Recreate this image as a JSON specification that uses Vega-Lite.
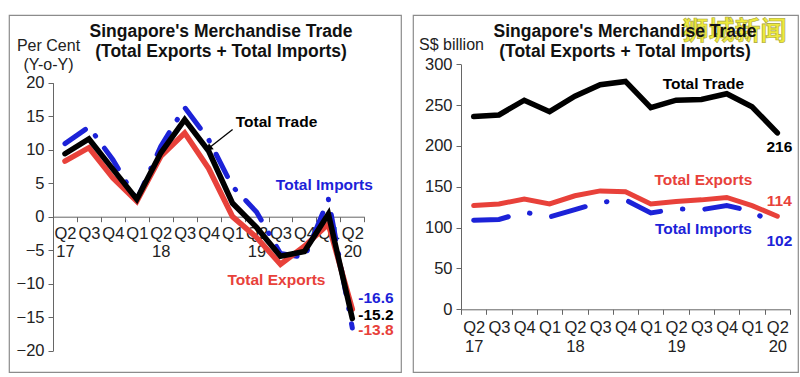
{
  "$schema": "https://vega.github.io/schema/vega-lite/v6.json",
  "background": "white",
  "padding": {"left": 8, "top": 14, "right": 0, "bottom": 0},
  "config": {
    "font": "Liberation Sans",
    "view": {"stroke": "#8c8c8c", "strokeWidth": 1.2},
    "axis": {"labelFontSize": 16.5, "labelColor": "#222", "domainColor": "#666", "tickColor": "#666", "grid": false, "titleFontSize": 16, "titleFontWeight": "normal", "titleColor": "#222", "labelFont": "Liberation Sans", "titleFont": "Liberation Sans"},
    "title": {"fontSize": 17.5, "fontWeight": "bold", "color": "#111", "lineHeight": 20, "font": "Liberation Sans"}
  },
  "datasets": {
    "pct": [
      {"q": "Q2 17", "s": "Total Imports", "v": 10.9}, {"q": "Q3 17", "s": "Total Imports", "v": 13.4}, {"q": "Q4 17", "s": "Total Imports", "v": 8.5}, {"q": "Q1 18", "s": "Total Imports", "v": 2.5}, {"q": "Q2 18", "s": "Total Imports", "v": 10.5}, {"q": "Q3 18", "s": "Total Imports", "v": 16.3}, {"q": "Q4 18", "s": "Total Imports", "v": 11.5}, {"q": "Q1 19", "s": "Total Imports", "v": 4.5}, {"q": "Q2 19", "s": "Total Imports", "v": 0.7}, {"q": "Q3 19", "s": "Total Imports", "v": -5.5}, {"q": "Q4 19", "s": "Total Imports", "v": -6.1}, {"q": "Q1 20", "s": "Total Imports", "v": 2.6}, {"q": "Q2 20", "s": "Total Imports", "v": -16.6},
      {"q": "Q2 17", "s": "Total Exports", "v": 8.3}, {"q": "Q3 17", "s": "Total Exports", "v": 10.3}, {"q": "Q4 17", "s": "Total Exports", "v": 5.8}, {"q": "Q1 18", "s": "Total Exports", "v": 2.3}, {"q": "Q2 18", "s": "Total Exports", "v": 9.0}, {"q": "Q3 18", "s": "Total Exports", "v": 12.5}, {"q": "Q4 18", "s": "Total Exports", "v": 7.2}, {"q": "Q1 19", "s": "Total Exports", "v": 0.0}, {"q": "Q2 19", "s": "Total Exports", "v": -3.1}, {"q": "Q3 19", "s": "Total Exports", "v": -7.1}, {"q": "Q4 19", "s": "Total Exports", "v": -4.4}, {"q": "Q1 20", "s": "Total Exports", "v": -1.1}, {"q": "Q2 20", "s": "Total Exports", "v": -13.8},
      {"q": "Q2 17", "s": "Total Trade", "v": 9.4}, {"q": "Q3 17", "s": "Total Trade", "v": 11.6}, {"q": "Q4 17", "s": "Total Trade", "v": 7.1}, {"q": "Q1 18", "s": "Total Trade", "v": 2.6}, {"q": "Q2 18", "s": "Total Trade", "v": 9.5}, {"q": "Q3 18", "s": "Total Trade", "v": 14.5}, {"q": "Q4 18", "s": "Total Trade", "v": 9.8}, {"q": "Q1 19", "s": "Total Trade", "v": 2.0}, {"q": "Q2 19", "s": "Total Trade", "v": -1.6}, {"q": "Q3 19", "s": "Total Trade", "v": -5.9}, {"q": "Q4 19", "s": "Total Trade", "v": -5.2}, {"q": "Q1 20", "s": "Total Trade", "v": 0.4}, {"q": "Q2 20", "s": "Total Trade", "v": -15.2}
    ],
    "bil": [
      {"q": "Q2 17", "s": "Total Imports", "v": 109}, {"q": "Q3 17", "s": "Total Imports", "v": 110}, {"q": "Q4 17", "s": "Total Imports", "v": 119}, {"q": "Q1 18", "s": "Total Imports", "v": 113}, {"q": "Q2 18", "s": "Total Imports", "v": 122}, {"q": "Q3 18", "s": "Total Imports", "v": 131}, {"q": "Q4 18", "s": "Total Imports", "v": 134}, {"q": "Q1 19", "s": "Total Imports", "v": 118}, {"q": "Q2 19", "s": "Total Imports", "v": 123}, {"q": "Q3 19", "s": "Total Imports", "v": 122}, {"q": "Q4 19", "s": "Total Imports", "v": 127}, {"q": "Q1 20", "s": "Total Imports", "v": 120}, {"q": "Q2 20", "s": "Total Imports", "v": 102},
      {"q": "Q2 17", "s": "Total Exports", "v": 127}, {"q": "Q3 17", "s": "Total Exports", "v": 129}, {"q": "Q4 17", "s": "Total Exports", "v": 135}, {"q": "Q1 18", "s": "Total Exports", "v": 129}, {"q": "Q2 18", "s": "Total Exports", "v": 139}, {"q": "Q3 18", "s": "Total Exports", "v": 145}, {"q": "Q4 18", "s": "Total Exports", "v": 144}, {"q": "Q1 19", "s": "Total Exports", "v": 129}, {"q": "Q2 19", "s": "Total Exports", "v": 132}, {"q": "Q3 19", "s": "Total Exports", "v": 134}, {"q": "Q4 19", "s": "Total Exports", "v": 137}, {"q": "Q1 20", "s": "Total Exports", "v": 127}, {"q": "Q2 20", "s": "Total Exports", "v": 114},
      {"q": "Q2 17", "s": "Total Trade", "v": 236}, {"q": "Q3 17", "s": "Total Trade", "v": 238}, {"q": "Q4 17", "s": "Total Trade", "v": 256}, {"q": "Q1 18", "s": "Total Trade", "v": 242}, {"q": "Q2 18", "s": "Total Trade", "v": 261}, {"q": "Q3 18", "s": "Total Trade", "v": 275}, {"q": "Q4 18", "s": "Total Trade", "v": 279}, {"q": "Q1 19", "s": "Total Trade", "v": 247}, {"q": "Q2 19", "s": "Total Trade", "v": 256}, {"q": "Q3 19", "s": "Total Trade", "v": 257}, {"q": "Q4 19", "s": "Total Trade", "v": 264}, {"q": "Q1 20", "s": "Total Trade", "v": 248}, {"q": "Q2 20", "s": "Total Trade", "v": 216}
    ],
    "pctNames": [
      {"q": "Q3 19", "v": 14.1, "s": "Total Trade", "label": "Total Trade"},
      {"q": "Q1 20", "v": 4.7, "s": "Total Imports", "label": "Total Imports"},
      {"q": "Q3 19", "v": -9.45, "s": "Total Exports", "label": "Total Exports"}
    ],
    "pctEnds": [
      {"q": "Q2 20", "v": -12.1, "s": "Total Imports", "label": "-16.6"},
      {"q": "Q2 20", "v": -14.6, "s": "Total Trade", "label": "-15.2"},
      {"q": "Q2 20", "v": -16.9, "s": "Total Exports", "label": "-13.8"}
    ],
    "arrow": [
      {"q": "Q1 19", "v": 13.0},
      {"q": "Q4 18", "v": 10.2}
    ],
    "arrowHead": [
      {"q": "Q4 18", "v": 10.2}
    ],
    "bilNames": [
      {"q": "Q3 19", "v": 276, "s": "Total Trade", "label": "Total Trade"},
      {"q": "Q3 19", "v": 158, "s": "Total Exports", "label": "Total Exports"},
      {"q": "Q3 19", "v": 98.7, "s": "Total Imports", "label": "Total Imports"},
      {"q": "Q2 20", "v": 199, "s": "Total Trade", "label": "216"},
      {"q": "Q2 20", "v": 132.6, "s": "Total Exports", "label": "114"},
      {"q": "Q2 20", "v": 83.6, "s": "Total Imports", "label": "102"}
    ],
    "mark": [
      {"q": "Q1 20", "v": 339.5, "label": "狮城新闻"}
    ]
  },
  "spacing": 10,
  "hconcat": [
    {
      "width": 392,
      "height": 357,
      "title": {"text": ["Singapore's Merchandise Trade", "(Total Exports + Total Imports)"], "anchor": "middle", "dx": 16, "offset": -45},
      "encoding": {
        "x": {"field": "q", "type": "nominal", "sort": ["Q2 17", "Q3 17", "Q4 17", "Q1 18", "Q2 18", "Q3 18", "Q4 18", "Q1 19", "Q2 19", "Q3 19", "Q4 19", "Q1 20", "Q2 20"],
          "scale": {"type": "band", "range": [44, 355.3], "paddingInner": 0, "paddingOuter": 0},
          "axis": {"title": null, "orient": "bottom", "offset": -155.3, "labelAngle": 0, "labelExpr": "substring(datum.label, 0, 2) == 'Q2' ? split(datum.label, ' ') : substring(datum.label, 0, 2)", "tickBand": "extent", "tickSize": 5, "labelPadding": 4, "labelLineHeight": 18, "labelOverlap": false, "labelBound": false, "labelFlush": false}},
        "y": {"field": "v", "type": "quantitative",
          "scale": {"domain": [-20, 20], "range": [335.7, 67.7], "nice": false, "zero": false},
          "axis": {"values": [-20, -15, -10, -5, 0, 5, 10, 15, 20], "offset": -44, "tickSize": 5, "labelPadding": 4, "title": ["Per Cent", "(Y-o-Y)"], "titleAngle": 0, "titleAlign": "center", "titleBaseline": "top", "titleX": -5, "titleY": 22, "titleLineHeight": 19}}
      },
      "layer": [
        {"data": {"name": "pct"}, "transform": [{"filter": "datum.s == 'Total Imports'"}],
          "mark": {"type": "line", "color": "#1c22d8", "strokeWidth": 5, "strokeCap": "round", "strokeDash": [25, 15, 0.5, 15]}},
        {"data": {"name": "pct"}, "transform": [{"filter": "datum.s == 'Total Exports'"}],
          "mark": {"type": "line", "color": "#e8413a", "strokeWidth": 5.5, "strokeCap": "round"}},
        {"data": {"name": "pct"}, "transform": [{"filter": "datum.s == 'Total Trade'"}],
          "mark": {"type": "line", "color": "#000000", "strokeWidth": 5.5, "strokeCap": "round"}},
        {"data": {"name": "arrow"}, "mark": {"type": "line", "color": "#000000", "strokeWidth": 1.3}},
        {"data": {"name": "arrowHead"}, "mark": {"type": "point", "shape": "triangle-up", "filled": true, "color": "#000000", "size": 60, "angle": 232, "opacity": 1}},
        {"data": {"name": "pctNames"}, "mark": {"type": "text", "fontSize": 15.5, "fontWeight": "bold", "align": "center", "baseline": "middle", "dx": -4},
          "encoding": {"text": {"field": "label"}, "color": {"field": "s", "type": "nominal", "scale": {"domain": ["Total Trade", "Total Exports", "Total Imports"], "range": ["#000000", "#e8413a", "#1c22d8"]}, "legend": null}}},
        {"data": {"name": "pctEnds"}, "mark": {"type": "text", "fontSize": 15.5, "fontWeight": "bold", "align": "left", "baseline": "middle", "dx": 6},
          "encoding": {"text": {"field": "label"}, "color": {"field": "s", "type": "nominal", "legend": null}}}
      ]
    },
    {
      "width": 385,
      "height": 357,
      "title": {"text": ["Singapore's Merchandise Trade", "(Total Exports + Total Imports)"], "anchor": "middle", "dx": 19.5, "offset": -45},
      "encoding": {
        "x": {"field": "q", "type": "nominal", "sort": ["Q2 17", "Q3 17", "Q4 17", "Q1 18", "Q2 18", "Q3 18", "Q4 18", "Q1 19", "Q2 19", "Q3 19", "Q4 19", "Q1 20", "Q2 20"],
          "scale": {"type": "band", "range": [48, 377], "paddingInner": 0, "paddingOuter": 0},
          "axis": {"title": null, "orient": "bottom", "offset": -62.7, "labelAngle": 0, "labelExpr": "substring(datum.label, 0, 2) == 'Q2' ? split(datum.label, ' ') : substring(datum.label, 0, 2)", "tickBand": "extent", "tickSize": 5, "labelPadding": 5, "labelLineHeight": 19, "labelOverlap": false, "labelBound": false, "labelFlush": false}},
        "y": {"field": "v", "type": "quantitative",
          "scale": {"domain": [0, 300], "range": [294.3, 49.3], "nice": false, "zero": false},
          "axis": {"values": [0, 50, 100, 150, 200, 250, 300], "offset": -48, "tickSize": 5, "labelPadding": 4, "title": "S$ billion", "titleAngle": 0, "titleAlign": "center", "titleBaseline": "top", "titleX": -10, "titleY": 21}}
      },
      "layer": [
        {"data": {"name": "bil"}, "transform": [{"filter": "datum.s == 'Total Imports'"}],
          "mark": {"type": "line", "color": "#1c22d8", "strokeWidth": 5, "strokeCap": "round", "strokeDash": [35, 22, 0.5, 22]}},
        {"data": {"name": "bil"}, "transform": [{"filter": "datum.s == 'Total Exports'"}],
          "mark": {"type": "line", "color": "#e8413a", "strokeWidth": 5, "strokeCap": "round"}},
        {"data": {"name": "bil"}, "transform": [{"filter": "datum.s == 'Total Trade'"}],
          "mark": {"type": "line", "color": "#000000", "strokeWidth": 5.5, "strokeCap": "round"}},
        {"data": {"name": "bilNames"}, "mark": {"type": "text", "fontSize": 15.5, "fontWeight": "bold", "align": "center", "baseline": "middle", "dx": 2},
          "encoding": {"text": {"field": "label"}, "color": {"field": "s", "type": "nominal", "scale": {"domain": ["Total Trade", "Total Exports", "Total Imports"], "range": ["#000000", "#e8413a", "#1c22d8"]}, "legend": null}}},
        {"data": {"name": "mark"}, "mark": {"type": "text", "font": "Noto Sans CJK SC", "fontSize": 26, "fontWeight": "bold", "align": "center", "baseline": "middle", "dx": -17.6, "fill": "#eeea3c", "stroke": "#a8a436", "strokeWidth": 0.6},
          "encoding": {"text": {"field": "label"}}}
      ]
    }
  ]
}
